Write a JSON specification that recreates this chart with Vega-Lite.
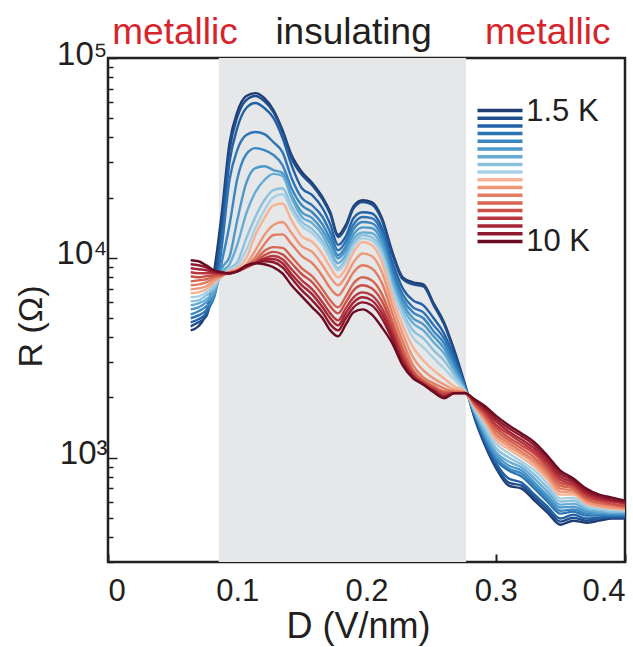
{
"$schema": "https://vega.github.io/schema/vega-lite/v6.json",
"width": 517, "height": 504,
"autosize": {"type": "none"},
"padding": {"left": 108, "top": 58, "right": 8, "bottom": 85},
"background": "white",
"config": {
  "view": {"stroke": "#231f20", "strokeWidth": 2.5},
  "font": "Liberation Sans",
  "axis": {"labelColor": "#231f20", "titleColor": "#231f20", "titleFontWeight": "normal", "grid": false, "domain": false, "tickColor": "#231f20"}
},
"datasets": {"curves": [
{"T":1.5,"D":0.064,"R":4330},{"T":1.5,"D":0.07,"R":4540},{"T":1.5,"D":0.076,"R":5330},{"T":1.5,"D":0.082,"R":8460},{"T":1.5,"D":0.088,"R":16700},{"T":1.5,"D":0.094,"R":37500},{"T":1.5,"D":0.1,"R":53600},{"T":1.5,"D":0.107,"R":64500},{"T":1.5,"D":0.114,"R":66700},{"T":1.5,"D":0.121,"R":63000},{"T":1.5,"D":0.128,"R":54900},{"T":1.5,"D":0.135,"R":43600},{"T":1.5,"D":0.142,"R":32700},{"T":1.5,"D":0.15,"R":26900},{"T":1.5,"D":0.158,"R":23700},{"T":1.5,"D":0.166,"R":20100},{"T":1.5,"D":0.172,"R":16900},{"T":1.5,"D":0.178,"R":13000},{"T":1.5,"D":0.184,"R":14600},{"T":1.5,"D":0.19,"R":18100},{"T":1.5,"D":0.197,"R":19400},{"T":1.5,"D":0.204,"R":19000},{"T":1.5,"D":0.212,"R":15800},{"T":1.5,"D":0.22,"R":10700},{"T":1.5,"D":0.228,"R":7990},{"T":1.5,"D":0.236,"R":7540},{"T":1.5,"D":0.244,"R":7360},{"T":1.5,"D":0.252,"R":5910},{"T":1.5,"D":0.26,"R":4750},{"T":1.5,"D":0.268,"R":3440},{"T":1.5,"D":0.276,"R":2350},{"T":1.5,"D":0.284,"R":1550},{"T":1.5,"D":0.292,"R":1140},{"T":1.5,"D":0.3,"R":891},{"T":1.5,"D":0.31,"R":724},{"T":1.5,"D":0.32,"R":699},{"T":1.5,"D":0.33,"R":609},{"T":1.5,"D":0.34,"R":530},{"T":1.5,"D":0.35,"R":461},{"T":1.5,"D":0.36,"R":483},{"T":1.5,"D":0.37,"R":472},{"T":1.5,"D":0.38,"R":483},{"T":1.5,"D":0.39,"R":495},{"T":1.5,"D":0.4,"R":495},
{"T":2,"D":0.064,"R":4540},{"T":2,"D":0.07,"R":4750},{"T":2,"D":0.076,"R":5090},{"T":2,"D":0.082,"R":7540},{"T":2,"D":0.088,"R":15100},{"T":2,"D":0.094,"R":34600},{"T":2,"D":0.1,"R":50600},{"T":2,"D":0.107,"R":61600},{"T":2,"D":0.114,"R":64500},{"T":2,"D":0.121,"R":60900},{"T":2,"D":0.128,"R":53600},{"T":2,"D":0.135,"R":42600},{"T":2,"D":0.142,"R":31500},{"T":2,"D":0.15,"R":26000},{"T":2,"D":0.158,"R":23100},{"T":2,"D":0.166,"R":19600},{"T":2,"D":0.172,"R":16500},{"T":2,"D":0.178,"R":12700},{"T":2,"D":0.184,"R":14200},{"T":2,"D":0.19,"R":17700},{"T":2,"D":0.197,"R":19000},{"T":2,"D":0.204,"R":18500},{"T":2,"D":0.212,"R":15400},{"T":2,"D":0.22,"R":10400},{"T":2,"D":0.228,"R":7810},{"T":2,"D":0.236,"R":7360},{"T":2,"D":0.244,"R":7200},{"T":2,"D":0.252,"R":5780},{"T":2,"D":0.26,"R":4640},{"T":2,"D":0.268,"R":3360},{"T":2,"D":0.276,"R":2320},{"T":2,"D":0.284,"R":1570},{"T":2,"D":0.292,"R":1160},{"T":2,"D":0.3,"R":912},{"T":2,"D":0.31,"R":749},{"T":2,"D":0.32,"R":724},{"T":2,"D":0.33,"R":630},{"T":2,"D":0.34,"R":549},{"T":2,"D":0.35,"R":478},{"T":2,"D":0.36,"R":500},{"T":2,"D":0.37,"R":483},{"T":2,"D":0.38,"R":495},{"T":2,"D":0.39,"R":500},{"T":2,"D":0.4,"R":500},
{"T":2.5,"D":0.064,"R":4750},{"T":2.5,"D":0.07,"R":4920},{"T":2.5,"D":0.076,"R":5270},{"T":2.5,"D":0.082,"R":6710},{"T":2.5,"D":0.088,"R":13000},{"T":2.5,"D":0.094,"R":30100},{"T":2.5,"D":0.1,"R":44600},{"T":2.5,"D":0.107,"R":56200},{"T":2.5,"D":0.114,"R":59500},{"T":2.5,"D":0.121,"R":56200},{"T":2.5,"D":0.128,"R":50100},{"T":2.5,"D":0.135,"R":39800},{"T":2.5,"D":0.142,"R":29100},{"T":2.5,"D":0.15,"R":22300},{"T":2.5,"D":0.158,"R":20600},{"T":2.5,"D":0.166,"R":17700},{"T":2.5,"D":0.172,"R":14700},{"T":2.5,"D":0.178,"R":11600},{"T":2.5,"D":0.184,"R":12800},{"T":2.5,"D":0.19,"R":15800},{"T":2.5,"D":0.197,"R":16900},{"T":2.5,"D":0.204,"R":16700},{"T":2.5,"D":0.212,"R":14100},{"T":2.5,"D":0.22,"R":9500},{"T":2.5,"D":0.228,"R":7030},{"T":2.5,"D":0.236,"R":6120},{"T":2.5,"D":0.244,"R":5780},{"T":2.5,"D":0.252,"R":4980},{"T":2.5,"D":0.26,"R":4180},{"T":2.5,"D":0.268,"R":3170},{"T":2.5,"D":0.276,"R":2290},{"T":2.5,"D":0.284,"R":1590},{"T":2.5,"D":0.292,"R":1190},{"T":2.5,"D":0.3,"R":944},{"T":2.5,"D":0.31,"R":785},{"T":2.5,"D":0.32,"R":749},{"T":2.5,"D":0.33,"R":652},{"T":2.5,"D":0.34,"R":568},{"T":2.5,"D":0.35,"R":495},{"T":2.5,"D":0.36,"R":518},{"T":2.5,"D":0.37,"R":495},{"T":2.5,"D":0.38,"R":500},{"T":2.5,"D":0.39,"R":506},{"T":2.5,"D":0.4,"R":506},
{"T":3,"D":0.064,"R":4980},{"T":3,"D":0.07,"R":5150},{"T":3,"D":0.076,"R":5460},{"T":3,"D":0.082,"R":6340},{"T":3,"D":0.088,"R":11300},{"T":3,"D":0.094,"R":24500},{"T":3,"D":0.1,"R":34600},{"T":3,"D":0.107,"R":41200},{"T":3,"D":0.114,"R":42600},{"T":3,"D":0.121,"R":41600},{"T":3,"D":0.128,"R":37900},{"T":3,"D":0.135,"R":33800},{"T":3,"D":0.142,"R":25100},{"T":3,"D":0.15,"R":19900},{"T":3,"D":0.158,"R":18300},{"T":3,"D":0.166,"R":16000},{"T":3,"D":0.172,"R":13400},{"T":3,"D":0.178,"R":10900},{"T":3,"D":0.184,"R":12100},{"T":3,"D":0.19,"R":14700},{"T":3,"D":0.197,"R":16000},{"T":3,"D":0.204,"R":15800},{"T":3,"D":0.212,"R":13400},{"T":3,"D":0.22,"R":8860},{"T":3,"D":0.228,"R":6560},{"T":3,"D":0.236,"R":5650},{"T":3,"D":0.244,"R":5330},{"T":3,"D":0.252,"R":4590},{"T":3,"D":0.26,"R":3950},{"T":3,"D":0.268,"R":3030},{"T":3,"D":0.276,"R":2270},{"T":3,"D":0.284,"R":1620},{"T":3,"D":0.292,"R":1220},{"T":3,"D":0.3,"R":977},{"T":3,"D":0.31,"R":861},{"T":3,"D":0.32,"R":803},{"T":3,"D":0.33,"R":699},{"T":3,"D":0.34,"R":602},{"T":3,"D":0.35,"R":524},{"T":3,"D":0.36,"R":536},{"T":3,"D":0.37,"R":512},{"T":3,"D":0.38,"R":512},{"T":3,"D":0.39,"R":512},{"T":3,"D":0.4,"R":512},
{"T":3.5,"D":0.064,"R":5210},{"T":3.5,"D":0.07,"R":5400},{"T":3.5,"D":0.076,"R":5710},{"T":3.5,"D":0.082,"R":6340},{"T":3.5,"D":0.088,"R":9500},{"T":3.5,"D":0.094,"R":14600},{"T":3.5,"D":0.1,"R":24800},{"T":3.5,"D":0.107,"R":33000},{"T":3.5,"D":0.114,"R":35400},{"T":3.5,"D":0.121,"R":34600},{"T":3.5,"D":0.128,"R":32700},{"T":3.5,"D":0.135,"R":29100},{"T":3.5,"D":0.142,"R":22300},{"T":3.5,"D":0.15,"R":18300},{"T":3.5,"D":0.158,"R":16900},{"T":3.5,"D":0.166,"R":14700},{"T":3.5,"D":0.172,"R":12400},{"T":3.5,"D":0.178,"R":10300},{"T":3.5,"D":0.184,"R":11400},{"T":3.5,"D":0.19,"R":13900},{"T":3.5,"D":0.197,"R":15100},{"T":3.5,"D":0.204,"R":14900},{"T":3.5,"D":0.212,"R":12700},{"T":3.5,"D":0.22,"R":8360},{"T":3.5,"D":0.228,"R":6190},{"T":3.5,"D":0.236,"R":5330},{"T":3.5,"D":0.244,"R":4980},{"T":3.5,"D":0.252,"R":4280},{"T":3.5,"D":0.26,"R":3730},{"T":3.5,"D":0.268,"R":2890},{"T":3.5,"D":0.276,"R":2240},{"T":3.5,"D":0.284,"R":1640},{"T":3.5,"D":0.292,"R":1250},{"T":3.5,"D":0.3,"R":1000},{"T":3.5,"D":0.31,"R":881},{"T":3.5,"D":0.32,"R":832},{"T":3.5,"D":0.33,"R":724},{"T":3.5,"D":0.34,"R":623},{"T":3.5,"D":0.35,"R":542},{"T":3.5,"D":0.36,"R":549},{"T":3.5,"D":0.37,"R":524},{"T":3.5,"D":0.38,"R":518},{"T":3.5,"D":0.39,"R":518},{"T":3.5,"D":0.4,"R":518},
{"T":4,"D":0.064,"R":5520},{"T":4,"D":0.07,"R":5650},{"T":4,"D":0.076,"R":5980},{"T":4,"D":0.082,"R":6560},{"T":4,"D":0.088,"R":8860},{"T":4,"D":0.094,"R":10100},{"T":4,"D":0.1,"R":15400},{"T":4,"D":0.107,"R":23700},{"T":4,"D":0.114,"R":28100},{"T":4,"D":0.121,"R":28700},{"T":4,"D":0.128,"R":27500},{"T":4,"D":0.135,"R":26600},{"T":4,"D":0.142,"R":20600},{"T":4,"D":0.15,"R":16900},{"T":4,"D":0.158,"R":15800},{"T":4,"D":0.166,"R":13700},{"T":4,"D":0.172,"R":11700},{"T":4,"D":0.178,"R":9940},{"T":4,"D":0.184,"R":10900},{"T":4,"D":0.19,"R":13100},{"T":4,"D":0.197,"R":14200},{"T":4,"D":0.204,"R":14100},{"T":4,"D":0.212,"R":12000},{"T":4,"D":0.22,"R":7990},{"T":4,"D":0.228,"R":5910},{"T":4,"D":0.236,"R":4980},{"T":4,"D":0.244,"R":4640},{"T":4,"D":0.252,"R":4040},{"T":4,"D":0.26,"R":3520},{"T":4,"D":0.268,"R":2790},{"T":4,"D":0.276,"R":2220},{"T":4,"D":0.284,"R":1660},{"T":4,"D":0.292,"R":1280},{"T":4,"D":0.3,"R":1040},{"T":4,"D":0.31,"R":912},{"T":4,"D":0.32,"R":861},{"T":4,"D":0.33,"R":749},{"T":4,"D":0.34,"R":645},{"T":4,"D":0.35,"R":562},{"T":4,"D":0.36,"R":568},{"T":4,"D":0.37,"R":536},{"T":4,"D":0.38,"R":530},{"T":4,"D":0.39,"R":524},{"T":4,"D":0.4,"R":524},
{"T":4.5,"D":0.064,"R":5780},{"T":4.5,"D":0.07,"R":5910},{"T":4.5,"D":0.076,"R":6190},{"T":4.5,"D":0.082,"R":6790},{"T":4.5,"D":0.088,"R":8460},{"T":4.5,"D":0.094,"R":9280},{"T":4.5,"D":0.1,"R":11600},{"T":4.5,"D":0.107,"R":16700},{"T":4.5,"D":0.114,"R":21300},{"T":4.5,"D":0.121,"R":24500},{"T":4.5,"D":0.128,"R":26300},{"T":4.5,"D":0.135,"R":25700},{"T":4.5,"D":0.142,"R":19900},{"T":4.5,"D":0.15,"R":16000},{"T":4.5,"D":0.158,"R":14900},{"T":4.5,"D":0.166,"R":13000},{"T":4.5,"D":0.172,"R":10900},{"T":4.5,"D":0.178,"R":9390},{"T":4.5,"D":0.184,"R":10300},{"T":4.5,"D":0.19,"R":12400},{"T":4.5,"D":0.197,"R":13400},{"T":4.5,"D":0.204,"R":13300},{"T":4.5,"D":0.212,"R":11300},{"T":4.5,"D":0.22,"R":7620},{"T":4.5,"D":0.228,"R":5650},{"T":4.5,"D":0.236,"R":4700},{"T":4.5,"D":0.244,"R":4330},{"T":4.5,"D":0.252,"R":3770},{"T":4.5,"D":0.26,"R":3320},{"T":4.5,"D":0.268,"R":2700},{"T":4.5,"D":0.276,"R":2190},{"T":4.5,"D":0.284,"R":1680},{"T":4.5,"D":0.292,"R":1320},{"T":4.5,"D":0.3,"R":1070},{"T":4.5,"D":0.31,"R":955},{"T":4.5,"D":0.32,"R":891},{"T":4.5,"D":0.33,"R":785},{"T":4.5,"D":0.34,"R":675},{"T":4.5,"D":0.35,"R":581},{"T":4.5,"D":0.36,"R":588},{"T":4.5,"D":0.37,"R":549},{"T":4.5,"D":0.38,"R":536},{"T":4.5,"D":0.39,"R":530},{"T":4.5,"D":0.4,"R":530},
{"T":5,"D":0.064,"R":6050},{"T":5,"D":0.07,"R":6120},{"T":5,"D":0.076,"R":6490},{"T":5,"D":0.082,"R":7030},{"T":5,"D":0.088,"R":8170},{"T":5,"D":0.094,"R":8860},{"T":5,"D":0.1,"R":9500},{"T":5,"D":0.107,"R":12500},{"T":5,"D":0.114,"R":16000},{"T":5,"D":0.121,"R":19400},{"T":5,"D":0.128,"R":21800},{"T":5,"D":0.135,"R":22300},{"T":5,"D":0.142,"R":18100},{"T":5,"D":0.15,"R":15100},{"T":5,"D":0.158,"R":13900},{"T":5,"D":0.166,"R":12100},{"T":5,"D":0.172,"R":10300},{"T":5,"D":0.178,"R":8860},{"T":5,"D":0.184,"R":9830},{"T":5,"D":0.19,"R":11800},{"T":5,"D":0.197,"R":13000},{"T":5,"D":0.204,"R":12700},{"T":5,"D":0.212,"R":10700},{"T":5,"D":0.22,"R":7200},{"T":5,"D":0.228,"R":5330},{"T":5,"D":0.236,"R":4330},{"T":5,"D":0.244,"R":3950},{"T":5,"D":0.252,"R":3440},{"T":5,"D":0.26,"R":3060},{"T":5,"D":0.268,"R":2580},{"T":5,"D":0.276,"R":2170},{"T":5,"D":0.284,"R":1700},{"T":5,"D":0.292,"R":1370},{"T":5,"D":0.3,"R":1120},{"T":5,"D":0.31,"R":1000},{"T":5,"D":0.32,"R":922},{"T":5,"D":0.33,"R":822},{"T":5,"D":0.34,"R":707},{"T":5,"D":0.35,"R":602},{"T":5,"D":0.36,"R":609},{"T":5,"D":0.37,"R":562},{"T":5,"D":0.38,"R":549},{"T":5,"D":0.39,"R":536},{"T":5,"D":0.4,"R":536},
{"T":5.5,"D":0.064,"R":6340},{"T":5.5,"D":0.07,"R":6410},{"T":5.5,"D":0.076,"R":6710},{"T":5.5,"D":0.082,"R":7280},{"T":5.5,"D":0.088,"R":8080},{"T":5.5,"D":0.094,"R":8760},{"T":5.5,"D":0.1,"R":9170},{"T":5.5,"D":0.107,"R":10900},{"T":5.5,"D":0.114,"R":14100},{"T":5.5,"D":0.121,"R":17300},{"T":5.5,"D":0.128,"R":20100},{"T":5.5,"D":0.135,"R":20800},{"T":5.5,"D":0.142,"R":17300},{"T":5.5,"D":0.15,"R":14400},{"T":5.5,"D":0.158,"R":13300},{"T":5.5,"D":0.166,"R":11600},{"T":5.5,"D":0.172,"R":9830},{"T":5.5,"D":0.178,"R":8660},{"T":5.5,"D":0.184,"R":9500},{"T":5.5,"D":0.19,"R":11400},{"T":5.5,"D":0.197,"R":12500},{"T":5.5,"D":0.204,"R":12200},{"T":5.5,"D":0.212,"R":10300},{"T":5.5,"D":0.22,"R":6870},{"T":5.5,"D":0.228,"R":5090},{"T":5.5,"D":0.236,"R":3990},{"T":5.5,"D":0.244,"R":3560},{"T":5.5,"D":0.252,"R":3140},{"T":5.5,"D":0.26,"R":2790},{"T":5.5,"D":0.268,"R":2460},{"T":5.5,"D":0.276,"R":2170},{"T":5.5,"D":0.284,"R":1740},{"T":5.5,"D":0.292,"R":1430},{"T":5.5,"D":0.3,"R":1180},{"T":5.5,"D":0.31,"R":1050},{"T":5.5,"D":0.32,"R":955},{"T":5.5,"D":0.33,"R":861},{"T":5.5,"D":0.34,"R":741},{"T":5.5,"D":0.35,"R":623},{"T":5.5,"D":0.36,"R":630},{"T":5.5,"D":0.37,"R":575},{"T":5.5,"D":0.38,"R":555},{"T":5.5,"D":0.39,"R":549},{"T":5.5,"D":0.4,"R":542},
{"T":6,"D":0.064,"R":6640},{"T":6,"D":0.07,"R":6710},{"T":6,"D":0.076,"R":6950},{"T":6,"D":0.082,"R":7540},{"T":6,"D":0.088,"R":8080},{"T":6,"D":0.094,"R":8560},{"T":6,"D":0.1,"R":8860},{"T":6,"D":0.107,"R":9940},{"T":6,"D":0.114,"R":13000},{"T":6,"D":0.121,"R":15800},{"T":6,"D":0.128,"R":18300},{"T":6,"D":0.135,"R":18700},{"T":6,"D":0.142,"R":15400},{"T":6,"D":0.15,"R":12800},{"T":6,"D":0.158,"R":12000},{"T":6,"D":0.166,"R":10400},{"T":6,"D":0.172,"R":8960},{"T":6,"D":0.178,"R":7990},{"T":6,"D":0.184,"R":8860},{"T":6,"D":0.19,"R":10700},{"T":6,"D":0.197,"R":12000},{"T":6,"D":0.204,"R":11600},{"T":6,"D":0.212,"R":9500},{"T":6,"D":0.22,"R":6340},{"T":6,"D":0.228,"R":4590},{"T":6,"D":0.236,"R":3560},{"T":6,"D":0.244,"R":3060},{"T":6,"D":0.252,"R":2730},{"T":6,"D":0.26,"R":2490},{"T":6,"D":0.268,"R":2270},{"T":6,"D":0.276,"R":2140},{"T":6,"D":0.284,"R":1780},{"T":6,"D":0.292,"R":1500},{"T":6,"D":0.3,"R":1230},{"T":6,"D":0.31,"R":1100},{"T":6,"D":0.32,"R":1000},{"T":6,"D":0.33,"R":901},{"T":6,"D":0.34,"R":776},{"T":6,"D":0.35,"R":652},{"T":6,"D":0.36,"R":652},{"T":6,"D":0.37,"R":588},{"T":6,"D":0.38,"R":568},{"T":6,"D":0.39,"R":555},{"T":6,"D":0.4,"R":549},
{"T":6.5,"D":0.064,"R":6950},{"T":6.5,"D":0.07,"R":7030},{"T":6.5,"D":0.076,"R":7200},{"T":6.5,"D":0.082,"R":7710},{"T":6.5,"D":0.088,"R":8080},{"T":6.5,"D":0.094,"R":8460},{"T":6.5,"D":0.1,"R":8760},{"T":6.5,"D":0.107,"R":9280},{"T":6.5,"D":0.114,"R":10900},{"T":6.5,"D":0.121,"R":13000},{"T":6.5,"D":0.128,"R":14600},{"T":6.5,"D":0.135,"R":15100},{"T":6.5,"D":0.142,"R":13300},{"T":6.5,"D":0.15,"R":11400},{"T":6.5,"D":0.158,"R":10700},{"T":6.5,"D":0.166,"R":9170},{"T":6.5,"D":0.172,"R":7990},{"T":6.5,"D":0.178,"R":7280},{"T":6.5,"D":0.184,"R":8080},{"T":6.5,"D":0.19,"R":9500},{"T":6.5,"D":0.197,"R":10500},{"T":6.5,"D":0.204,"R":10200},{"T":6.5,"D":0.212,"R":8460},{"T":6.5,"D":0.22,"R":5780},{"T":6.5,"D":0.228,"R":4180},{"T":6.5,"D":0.236,"R":3170},{"T":6.5,"D":0.244,"R":2730},{"T":6.5,"D":0.252,"R":2490},{"T":6.5,"D":0.26,"R":2320},{"T":6.5,"D":0.268,"R":2190},{"T":6.5,"D":0.276,"R":2120},{"T":6.5,"D":0.284,"R":1800},{"T":6.5,"D":0.292,"R":1530},{"T":6.5,"D":0.3,"R":1280},{"T":6.5,"D":0.31,"R":1140},{"T":6.5,"D":0.32,"R":1040},{"T":6.5,"D":0.33,"R":933},{"T":6.5,"D":0.34,"R":803},{"T":6.5,"D":0.35,"R":675},{"T":6.5,"D":0.36,"R":667},{"T":6.5,"D":0.37,"R":602},{"T":6.5,"D":0.38,"R":575},{"T":6.5,"D":0.39,"R":562},{"T":6.5,"D":0.4,"R":555},
{"T":7,"D":0.064,"R":7280},{"T":7,"D":0.07,"R":7360},{"T":7,"D":0.076,"R":7540},{"T":7,"D":0.082,"R":7900},{"T":7,"D":0.088,"R":8170},{"T":7,"D":0.094,"R":8460},{"T":7,"D":0.1,"R":8660},{"T":7,"D":0.107,"R":9070},{"T":7,"D":0.114,"R":10100},{"T":7,"D":0.121,"R":11700},{"T":7,"D":0.128,"R":13000},{"T":7,"D":0.135,"R":13100},{"T":7,"D":0.142,"R":11700},{"T":7,"D":0.15,"R":10200},{"T":7,"D":0.158,"R":9390},{"T":7,"D":0.166,"R":8080},{"T":7,"D":0.172,"R":7030},{"T":7,"D":0.178,"R":6490},{"T":7,"D":0.184,"R":7280},{"T":7,"D":0.19,"R":8460},{"T":7,"D":0.197,"R":9170},{"T":7,"D":0.204,"R":8860},{"T":7,"D":0.212,"R":7450},{"T":7,"D":0.22,"R":5270},{"T":7,"D":0.228,"R":3820},{"T":7,"D":0.236,"R":2890},{"T":7,"D":0.244,"R":2520},{"T":7,"D":0.252,"R":2350},{"T":7,"D":0.26,"R":2220},{"T":7,"D":0.268,"R":2140},{"T":7,"D":0.276,"R":2120},{"T":7,"D":0.284,"R":1820},{"T":7,"D":0.292,"R":1570},{"T":7,"D":0.3,"R":1320},{"T":7,"D":0.31,"R":1180},{"T":7,"D":0.32,"R":1070},{"T":7,"D":0.33,"R":966},{"T":7,"D":0.34,"R":832},{"T":7,"D":0.35,"R":699},{"T":7,"D":0.36,"R":683},{"T":7,"D":0.37,"R":616},{"T":7,"D":0.38,"R":588},{"T":7,"D":0.39,"R":575},{"T":7,"D":0.4,"R":562},
{"T":7.5,"D":0.064,"R":7620},{"T":7.5,"D":0.07,"R":7710},{"T":7.5,"D":0.076,"R":7810},{"T":7.5,"D":0.082,"R":8080},{"T":7.5,"D":0.088,"R":8170},{"T":7.5,"D":0.094,"R":8460},{"T":7.5,"D":0.1,"R":8560},{"T":7.5,"D":0.107,"R":8960},{"T":7.5,"D":0.114,"R":9720},{"T":7.5,"D":0.121,"R":10800},{"T":7.5,"D":0.128,"R":11300},{"T":7.5,"D":0.135,"R":11200},{"T":7.5,"D":0.142,"R":10100},{"T":7.5,"D":0.15,"R":8860},{"T":7.5,"D":0.158,"R":8080},{"T":7.5,"D":0.166,"R":6950},{"T":7.5,"D":0.172,"R":6120},{"T":7.5,"D":0.178,"R":5650},{"T":7.5,"D":0.184,"R":6410},{"T":7.5,"D":0.19,"R":7450},{"T":7.5,"D":0.197,"R":7990},{"T":7.5,"D":0.204,"R":7710},{"T":7.5,"D":0.212,"R":6560},{"T":7.5,"D":0.22,"R":4810},{"T":7.5,"D":0.228,"R":3520},{"T":7.5,"D":0.236,"R":2730},{"T":7.5,"D":0.244,"R":2430},{"T":7.5,"D":0.252,"R":2270},{"T":7.5,"D":0.26,"R":2140},{"T":7.5,"D":0.268,"R":2120},{"T":7.5,"D":0.276,"R":2120},{"T":7.5,"D":0.284,"R":1840},{"T":7.5,"D":0.292,"R":1610},{"T":7.5,"D":0.3,"R":1370},{"T":7.5,"D":0.31,"R":1220},{"T":7.5,"D":0.32,"R":1110},{"T":7.5,"D":0.33,"R":1000},{"T":7.5,"D":0.34,"R":861},{"T":7.5,"D":0.35,"R":724},{"T":7.5,"D":0.36,"R":699},{"T":7.5,"D":0.37,"R":623},{"T":7.5,"D":0.38,"R":595},{"T":7.5,"D":0.39,"R":581},{"T":7.5,"D":0.4,"R":568},
{"T":8,"D":0.064,"R":8080},{"T":8,"D":0.07,"R":7990},{"T":8,"D":0.076,"R":8080},{"T":8,"D":0.082,"R":8170},{"T":8,"D":0.088,"R":8270},{"T":8,"D":0.094,"R":8360},{"T":8,"D":0.1,"R":8560},{"T":8,"D":0.107,"R":8960},{"T":8,"D":0.114,"R":9500},{"T":8,"D":0.121,"R":10300},{"T":8,"D":0.128,"R":10700},{"T":8,"D":0.135,"R":10400},{"T":8,"D":0.142,"R":9390},{"T":8,"D":0.15,"R":8270},{"T":8,"D":0.158,"R":7540},{"T":8,"D":0.166,"R":6490},{"T":8,"D":0.172,"R":5710},{"T":8,"D":0.178,"R":5270},{"T":8,"D":0.184,"R":5980},{"T":8,"D":0.19,"R":6870},{"T":8,"D":0.197,"R":7280},{"T":8,"D":0.204,"R":7030},{"T":8,"D":0.212,"R":6050},{"T":8,"D":0.22,"R":4540},{"T":8,"D":0.228,"R":3320},{"T":8,"D":0.236,"R":2640},{"T":8,"D":0.244,"R":2380},{"T":8,"D":0.252,"R":2220},{"T":8,"D":0.26,"R":2100},{"T":8,"D":0.268,"R":2100},{"T":8,"D":0.276,"R":2100},{"T":8,"D":0.284,"R":1860},{"T":8,"D":0.292,"R":1640},{"T":8,"D":0.3,"R":1420},{"T":8,"D":0.31,"R":1260},{"T":8,"D":0.32,"R":1150},{"T":8,"D":0.33,"R":1040},{"T":8,"D":0.34,"R":891},{"T":8,"D":0.35,"R":749},{"T":8,"D":0.36,"R":716},{"T":8,"D":0.37,"R":637},{"T":8,"D":0.38,"R":609},{"T":8,"D":0.39,"R":588},{"T":8,"D":0.4,"R":575},
{"T":8.5,"D":0.064,"R":8460},{"T":8.5,"D":0.07,"R":8360},{"T":8.5,"D":0.076,"R":8360},{"T":8.5,"D":0.082,"R":8360},{"T":8.5,"D":0.088,"R":8360},{"T":8.5,"D":0.094,"R":8360},{"T":8.5,"D":0.1,"R":8560},{"T":8.5,"D":0.107,"R":8960},{"T":8.5,"D":0.114,"R":9390},{"T":8.5,"D":0.121,"R":9940},{"T":8.5,"D":0.128,"R":10200},{"T":8.5,"D":0.135,"R":9830},{"T":8.5,"D":0.142,"R":8760},{"T":8.5,"D":0.15,"R":7710},{"T":8.5,"D":0.158,"R":6950},{"T":8.5,"D":0.166,"R":5980},{"T":8.5,"D":0.172,"R":5270},{"T":8.5,"D":0.178,"R":4860},{"T":8.5,"D":0.184,"R":5580},{"T":8.5,"D":0.19,"R":6340},{"T":8.5,"D":0.197,"R":6710},{"T":8.5,"D":0.204,"R":6490},{"T":8.5,"D":0.212,"R":5580},{"T":8.5,"D":0.22,"R":4280},{"T":8.5,"D":0.228,"R":3170},{"T":8.5,"D":0.236,"R":2580},{"T":8.5,"D":0.244,"R":2350},{"T":8.5,"D":0.252,"R":2190},{"T":8.5,"D":0.26,"R":2050},{"T":8.5,"D":0.268,"R":2100},{"T":8.5,"D":0.276,"R":2100},{"T":8.5,"D":0.284,"R":1890},{"T":8.5,"D":0.292,"R":1680},{"T":8.5,"D":0.3,"R":1460},{"T":8.5,"D":0.31,"R":1310},{"T":8.5,"D":0.32,"R":1190},{"T":8.5,"D":0.33,"R":1070},{"T":8.5,"D":0.34,"R":922},{"T":8.5,"D":0.35,"R":776},{"T":8.5,"D":0.36,"R":732},{"T":8.5,"D":0.37,"R":652},{"T":8.5,"D":0.38,"R":616},{"T":8.5,"D":0.39,"R":602},{"T":8.5,"D":0.4,"R":588},
{"T":9,"D":0.064,"R":8860},{"T":9,"D":0.07,"R":8760},{"T":9,"D":0.076,"R":8660},{"T":9,"D":0.082,"R":8460},{"T":9,"D":0.088,"R":8360},{"T":9,"D":0.094,"R":8360},{"T":9,"D":0.1,"R":8560},{"T":9,"D":0.107,"R":9070},{"T":9,"D":0.114,"R":9390},{"T":9,"D":0.121,"R":9830},{"T":9,"D":0.128,"R":9830},{"T":9,"D":0.135,"R":9390},{"T":9,"D":0.142,"R":8270},{"T":9,"D":0.15,"R":7280},{"T":9,"D":0.158,"R":6560},{"T":9,"D":0.166,"R":5650},{"T":9,"D":0.172,"R":4980},{"T":9,"D":0.178,"R":4590},{"T":9,"D":0.184,"R":5270},{"T":9,"D":0.19,"R":5980},{"T":9,"D":0.197,"R":6340},{"T":9,"D":0.204,"R":6120},{"T":9,"D":0.212,"R":5270},{"T":9,"D":0.22,"R":4090},{"T":9,"D":0.228,"R":3060},{"T":9,"D":0.236,"R":2550},{"T":9,"D":0.244,"R":2320},{"T":9,"D":0.252,"R":2170},{"T":9,"D":0.26,"R":2020},{"T":9,"D":0.268,"R":2100},{"T":9,"D":0.276,"R":2100},{"T":9,"D":0.284,"R":1910},{"T":9,"D":0.292,"R":1720},{"T":9,"D":0.3,"R":1520},{"T":9,"D":0.31,"R":1350},{"T":9,"D":0.32,"R":1230},{"T":9,"D":0.33,"R":1110},{"T":9,"D":0.34,"R":955},{"T":9,"D":0.35,"R":803},{"T":9,"D":0.36,"R":749},{"T":9,"D":0.37,"R":667},{"T":9,"D":0.38,"R":630},{"T":9,"D":0.39,"R":609},{"T":9,"D":0.4,"R":595},
{"T":9.5,"D":0.064,"R":9280},{"T":9.5,"D":0.07,"R":9170},{"T":9.5,"D":0.076,"R":8960},{"T":9.5,"D":0.082,"R":8560},{"T":9.5,"D":0.088,"R":8460},{"T":9.5,"D":0.094,"R":8360},{"T":9.5,"D":0.1,"R":8560},{"T":9.5,"D":0.107,"R":9070},{"T":9.5,"D":0.114,"R":9390},{"T":9.5,"D":0.121,"R":9610},{"T":9.5,"D":0.128,"R":9500},{"T":9.5,"D":0.135,"R":8960},{"T":9.5,"D":0.142,"R":7900},{"T":9.5,"D":0.15,"R":6870},{"T":9.5,"D":0.158,"R":6120},{"T":9.5,"D":0.166,"R":5330},{"T":9.5,"D":0.172,"R":4640},{"T":9.5,"D":0.178,"R":4330},{"T":9.5,"D":0.184,"R":4980},{"T":9.5,"D":0.19,"R":5650},{"T":9.5,"D":0.197,"R":5980},{"T":9.5,"D":0.204,"R":5780},{"T":9.5,"D":0.212,"R":4980},{"T":9.5,"D":0.22,"R":3900},{"T":9.5,"D":0.228,"R":2960},{"T":9.5,"D":0.236,"R":2520},{"T":9.5,"D":0.244,"R":2320},{"T":9.5,"D":0.252,"R":2140},{"T":9.5,"D":0.26,"R":2000},{"T":9.5,"D":0.268,"R":2100},{"T":9.5,"D":0.276,"R":2100},{"T":9.5,"D":0.284,"R":1930},{"T":9.5,"D":0.292,"R":1760},{"T":9.5,"D":0.3,"R":1570},{"T":9.5,"D":0.31,"R":1400},{"T":9.5,"D":0.32,"R":1280},{"T":9.5,"D":0.33,"R":1150},{"T":9.5,"D":0.34,"R":989},{"T":9.5,"D":0.35,"R":832},{"T":9.5,"D":0.36,"R":767},{"T":9.5,"D":0.37,"R":683},{"T":9.5,"D":0.38,"R":637},{"T":9.5,"D":0.39,"R":616},{"T":9.5,"D":0.4,"R":602},
{"T":10,"D":0.064,"R":9720},{"T":10,"D":0.07,"R":9610},{"T":10,"D":0.076,"R":9170},{"T":10,"D":0.082,"R":8660},{"T":10,"D":0.088,"R":8460},{"T":10,"D":0.094,"R":8360},{"T":10,"D":0.1,"R":8560},{"T":10,"D":0.107,"R":9170},{"T":10,"D":0.114,"R":9390},{"T":10,"D":0.121,"R":9280},{"T":10,"D":0.128,"R":8960},{"T":10,"D":0.135,"R":8360},{"T":10,"D":0.142,"R":7280},{"T":10,"D":0.15,"R":6410},{"T":10,"D":0.158,"R":5650},{"T":10,"D":0.166,"R":4980},{"T":10,"D":0.172,"R":4330},{"T":10,"D":0.178,"R":4040},{"T":10,"D":0.184,"R":4640},{"T":10,"D":0.19,"R":5330},{"T":10,"D":0.197,"R":5520},{"T":10,"D":0.204,"R":5210},{"T":10,"D":0.212,"R":4480},{"T":10,"D":0.22,"R":3730},{"T":10,"D":0.228,"R":2890},{"T":10,"D":0.236,"R":2490},{"T":10,"D":0.244,"R":2320},{"T":10,"D":0.252,"R":2120},{"T":10,"D":0.26,"R":1980},{"T":10,"D":0.268,"R":2100},{"T":10,"D":0.276,"R":2100},{"T":10,"D":0.284,"R":1950},{"T":10,"D":0.292,"R":1800},{"T":10,"D":0.3,"R":1620},{"T":10,"D":0.31,"R":1450},{"T":10,"D":0.32,"R":1320},{"T":10,"D":0.33,"R":1190},{"T":10,"D":0.34,"R":1020},{"T":10,"D":0.35,"R":861},{"T":10,"D":0.36,"R":785},{"T":10,"D":0.37,"R":699},{"T":10,"D":0.38,"R":652},{"T":10,"D":0.39,"R":630},{"T":10,"D":0.4,"R":609}
]},
"data": {"name": "curves"},
"layer": [
  {
    "data": {"values": [{}]},
    "mark": {"type": "rect", "color": "#e6e7e8"},
    "encoding": {
      "x": {"datum": 0.0857, "type": "quantitative", "scale": {"domain": [0, 0.4], "nice": false, "zero": false},
        "axis": {"orient": "bottom", "values": [0, 0.1, 0.2, 0.3, 0.4], "labelExpr": "datum.value == 0 ? '0' : format(datum.value, '.1f')", "tickSize": -8, "tickWidth": 2, "labelFontSize": 31, "labelPadding": 46, "labelBaseline": "alphabetic", "labelFlush": true, "title": "D (V/nm)", "titleFontSize": 36, "titleX": 250, "titleY": 75, "titleBaseline": "alphabetic"}},
      "x2": {"datum": 0.277}
    }
  },
  {
    "mark": {"type": "line", "strokeWidth": 2.4, "interpolate": "monotone"},
    "encoding": {
      "x": {"field": "D", "type": "quantitative", "scale": {"domain": [0, 0.4], "nice": false, "zero": false},
        "axis": {"orient": "top", "values": [0.0514, 0.1896, 0.3398], "labelExpr": "datum.value < 0.1 || datum.value > 0.3 ? 'metallic' : 'insulating'", "ticks": false, "labelFontSize": 37, "labelPadding": 15, "labelBaseline": "alphabetic", "labelFlush": false, "labelOverlap": false, "labelColor": {"condition": {"test": "datum.value < 0.1 || datum.value > 0.3", "value": "#d7242c"}, "value": "#231f20"}, "title": null}},
      "y": {"field": "R", "type": "quantitative", "scale": {"type": "log", "domain": [300, 100000], "nice": false},
        "axis": {"orient": "left", "values": [300,400,500,600,700,800,900,1000,2000,3000,4000,5000,6000,7000,8000,9000,10000,20000,30000,40000,50000,60000,70000,80000,90000,100000], "labelExpr": "datum.value == 1000 ? '10³' : datum.value == 10000 ? '10⁴' : datum.value == 100000 ? '10⁵' : ''", "tickSize": {"condition": {"test": "datum.value == 1000 || datum.value == 10000 || datum.value == 100000", "value": -9}, "value": -5}, "tickWidth": 1.5, "labelFontSize": 33, "labelPadding": 10, "labelOffset": -4, "labelBaseline": "middle", "labelOverlap": false, "labelFlush": false, "title": "R (Ω)", "titleFontSize": 34, "titleX": -60, "titleY": 268}},
      "color": {"field": "T", "type": "ordinal",
        "scale": {"domain": [1.5,2,2.5,3,3.5,4,4.5,5,5.5,6,6.5,7,7.5,8,8.5,9,9.5,10], "range": ["#1f3d72","#1f4e8c","#2361a6","#2d74b4","#3986c0","#4b98c9","#66abd4","#8cc1de","#a8d0e5","#f6b293","#ee987a","#e37d62","#d6654f","#c94f47","#b8363f","#a52533","#8f192d","#6b0b22"]},
        "legend": {"orient": "none", "legendX": 389.5, "legendY": 50, "title": null, "symbolType": "M-9.09,-0.7H9.09V0.7H-9.09Z", "symbolSize": 24.5, "symbolStrokeWidth": 0, "labelExpr": "''", "labelFontSize": 1, "rowPadding": 2.7, "padding": 0, "symbolOffset": 0, "labelOffset": 0,
          "encode": {"symbols": {"update": {"fill": {"scale": "color", "field": "value"}, "fillOpacity": {"value": 1}, "strokeWidth": {"value": 0}}}}}}
    }
  },
  {
    "data": {"values": [{}]},
    "mark": {"type": "text", "align": "left", "baseline": "middle", "fontSize": 31, "color": "#231f20"},
    "encoding": {"x": {"datum": 0.3236, "type": "quantitative", "axis": null}, "y": {"datum": 53500, "type": "quantitative", "axis": null}, "text": {"value": "1.5 K"}}
  },
  {
    "data": {"values": [{}]},
    "mark": {"type": "text", "align": "left", "baseline": "middle", "fontSize": 31, "color": "#231f20"},
    "encoding": {"x": {"datum": 0.3236, "type": "quantitative", "axis": null}, "y": {"datum": 11970, "type": "quantitative", "axis": null}, "text": {"value": "10 K"}}
  }
],
"resolve": {"axis": {"x": "independent", "y": "independent"}}
}
